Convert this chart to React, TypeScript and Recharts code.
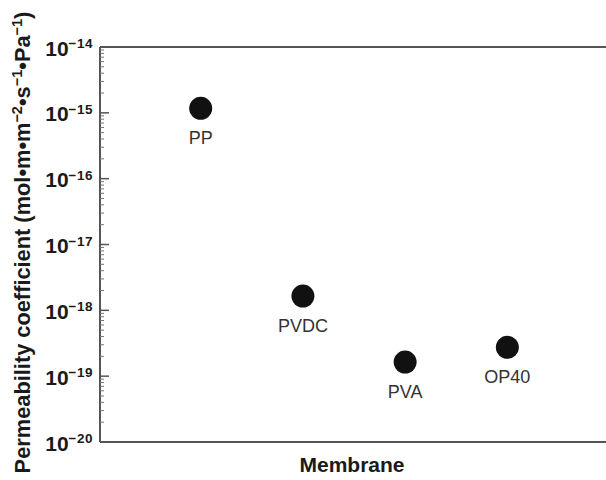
import React from 'react';
import { ScatterChart, Scatter, XAxis, YAxis, ReferenceLine, Label } from 'recharts';

const membranes = ['PP', 'PVDC', 'PVA', 'OP40'];
const positions = [1, 2, 3, 4];
const permeability = [1.17e-15, 1.65e-18, 1.64e-19, 2.74e-19];
const majorTicks = [1e-20, 1e-19, 1e-18, 1e-17, 1e-16, 1e-15, 1e-14];
const minorMultipliers = [2, 3, 4, 5, 6, 7, 8, 9];
const decades = [-20, -19, -18, -17, -16, -15];

const minorTicks = decades.flatMap((d) => minorMultipliers.map((m) => m * Math.pow(10, d)));
const data = membranes.map((name, i) => ({ name, x: positions[i], y: permeability[i] }));

const FONT = 'Liberation Sans, Arial, Helvetica, sans-serif';
const AXIS = '#555';
const Y_DOMAIN: [number, number] = [1e-20, 1e-14];
const X_DOMAIN: [number, number] = [0.015, 4.965];

const majorTickData = majorTicks.map((v) => ({ x: X_DOMAIN[0], y: v }));
const minorTickData = minorTicks.map((v) => ({ x: X_DOMAIN[0], y: v }));

const YTick = (props: any) => {
  const x = Number(props.x);
  const y = Number(props.y);
  const exp = Math.round(Math.log10(Number(props.payload?.value)));
  return (
    <text x={x} y={y} textAnchor="end" fontFamily={FONT} fontWeight="bold" fill="#1a1a1a">
      <tspan fontSize={21} dy={8.5}>10</tspan>
      <tspan fontSize={13.5} dy={-7.5} letterSpacing={0.5}>{'\u2212' + Math.abs(exp)}</tspan>
    </text>
  );
};

const MajorTickShape = (props: any) => {
  const { cx, cy } = props;
  return <line x1={cx} x2={cx + 9} y1={cy} y2={cy} stroke={AXIS} strokeWidth={1.5} />;
};

const MinorTickShape = (props: any) => {
  const { cx, cy } = props;
  return <line x1={cx} x2={cx + 4} y1={cy} y2={cy} stroke="#777" strokeWidth={1} />;
};

const Dot = (props: any) => {
  const { cx, cy, payload } = props;
  return (
    <g>
      <circle cx={cx} cy={cy} r={11.5} fill="#111" />
      <text x={cx} y={cy + 36} textAnchor="middle" fontSize={18} fontFamily={FONT} fill="#333">
        {payload.name}
      </text>
    </g>
  );
};

const YTitle = () => {
  const cx = 30;
  const cy = 242.5;
  return (
    <text
      x={cx}
      y={cy}
      transform={`rotate(-90, ${cx}, ${cy})`}
      textAnchor="middle"
      fontFamily={FONT}
      fontWeight="bold"
      fontSize={21.8}
      fill="#1a1a1a"
    >
      <tspan>Permeability coefficient (mol•m•m</tspan>
      <tspan fontSize={14.5} dy={-8}>{'\u22122'}</tspan>
      <tspan dy={8}>•s</tspan>
      <tspan fontSize={14.5} dy={-8}>{'\u22121'}</tspan>
      <tspan dy={8}>•Pa</tspan>
      <tspan fontSize={14.5} dy={-8}>{'\u22121'}</tspan>
      <tspan dy={8}>)</tspan>
    </text>
  );
};

const XTitle = (props: any) => {
  const vb = props.viewBox || { x: 100, y: 442, width: 506, height: 38 };
  return (
    <text
      x={vb.x + vb.width / 2 - 1}
      y={vb.y + 30}
      textAnchor="middle"
      fontFamily={FONT}
      fontWeight="bold"
      fontSize={21}
      fill="#1a1a1a"
    >
      Membrane
    </text>
  );
};

export default function App() {
  return (
    <div style={{ position: 'absolute', left: 0, top: 0, background: '#fff' }}>
      <ScatterChart width={606} height={480} margin={{ top: 47, right: 0, bottom: 0, left: 0 }}>
        <XAxis
          type="number"
          dataKey="x"
          domain={X_DOMAIN}
          allowDataOverflow
          ticks={[]}
          tick={false}
          tickLine={false}
          axisLine={{ stroke: AXIS, strokeWidth: 2 }}
          height={38}
        >
          <Label content={<XTitle />} />
        </XAxis>
        <YAxis
          yAxisId="main"
          type="number"
          dataKey="y"
          scale="log"
          domain={Y_DOMAIN}
          allowDataOverflow
          ticks={majorTicks}
          interval={0}
          tick={<YTick />}
          tickLine={false}
          tickSize={0}
          tickMargin={7}
          axisLine={{ stroke: AXIS, strokeWidth: 2 }}
          width={100}
        >
          <Label content={<YTitle />} />
        </YAxis>
        <ReferenceLine yAxisId="main" y={1e-14} stroke={AXIS} strokeWidth={2} />
        <Scatter
          yAxisId="main"
          data={minorTickData}
          shape={<MinorTickShape />}
          isAnimationActive={false}
        />
        <Scatter
          yAxisId="main"
          data={majorTickData}
          shape={<MajorTickShape />}
          isAnimationActive={false}
        />
        <Scatter yAxisId="main" data={data} shape={<Dot />} isAnimationActive={false} />
      </ScatterChart>
    </div>
  );
}
